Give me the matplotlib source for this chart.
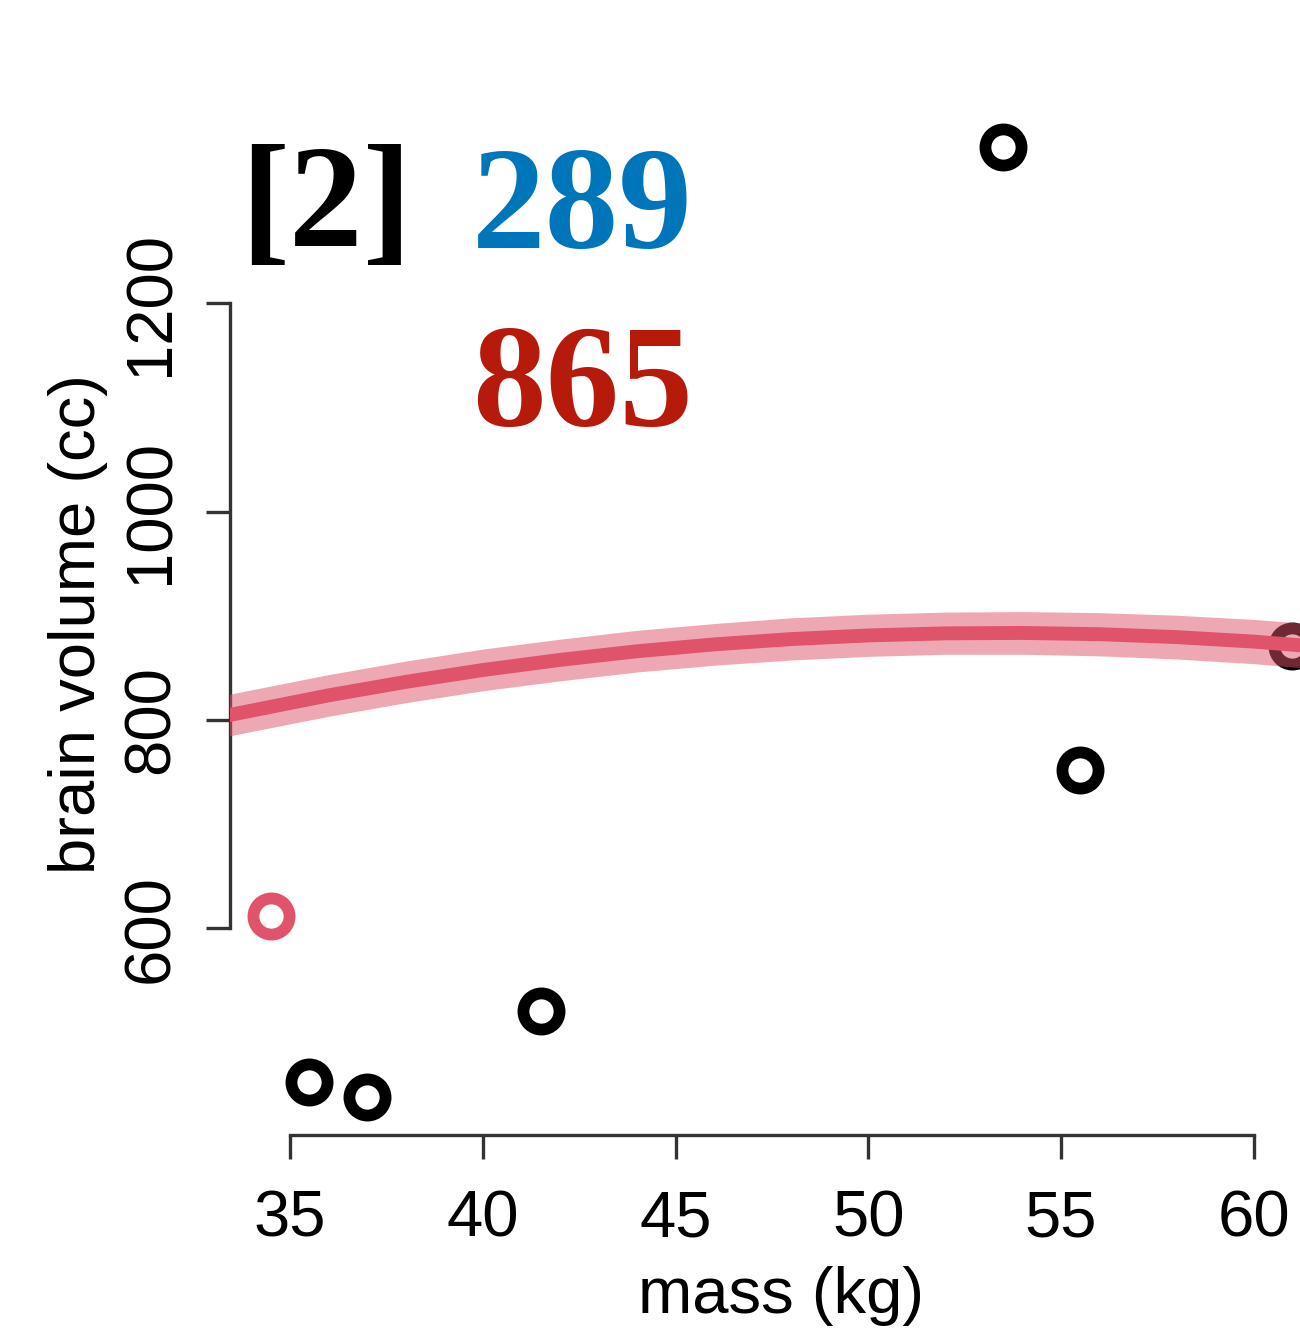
import matplotlib
matplotlib.use("Agg")
import matplotlib.pyplot as plt

# Hominin species: body mass (kg) and brain volume (cc)
mass = [37.0, 35.5, 34.5, 41.5, 55.5, 61.0, 53.5]
brain = [438, 452, 612, 521, 752, 871, 1350]
left_out = 2  # species dropped from this fit

# Posterior mean curve of the fit and its interval
curve_x = [33.4, 36, 38, 40, 42, 44, 46, 48, 50, 52, 54, 56, 58, 60, 62.1]
curve_mu = [804.5, 823.6, 836.5, 847.9, 857.6, 865.9, 872.5, 877.6, 881.1,
            883.1, 883.5, 882.3, 879.5, 875.2, 869.0]
curve_lo = [784.5, 803.5, 816.5, 828.0, 837.5, 846.0, 852.5, 857.5, 861.0,
            863.0, 863.0, 861.5, 858.5, 854.0, 847.5]
curve_hi = [824.5, 843.5, 856.5, 868.0, 877.5, 886.0, 892.5, 898.0, 901.5,
            903.5, 904.0, 903.0, 900.5, 896.5, 890.5]

x_ticks = [35, 40, 45, 50, 55, 60]
y_ticks = [600, 800, 1000, 1200]

fit_label = "[2]"
score_a = "289"
score_b = "865"

RED = "#DF536B"
AXC = "#333333"
FS = 47

plt.rcParams["font.family"] = ["Liberation Sans", "DejaVu Sans"]

fig = plt.figure(figsize=(13, 13.35), dpi=100)
ax = fig.add_axes([0.17692, 0.14981, 0.84846, 0.76854])
ax.set_xlim(33.44, 62.06)
ax.set_ylim(401.5, 1386.5)

# data points as open rings
for i, (m, b) in enumerate(zip(mass, brain)):
    c = RED if i == left_out else "black"
    ax.plot(m, b, "o", ms=26, mfc="none", mec=c, mew=8.5, zorder=2)

ax.fill_between(curve_x, curve_lo, curve_hi, color=RED, alpha=0.5, lw=0, zorder=3)
ax.plot(curve_x, curve_mu, color=RED, lw=10, solid_capstyle="butt", zorder=4)

for s in ("top", "right"):
    ax.spines[s].set_visible(False)
ax.spines["left"].set_bounds(y_ticks[0], y_ticks[-1])
ax.spines["bottom"].set_bounds(x_ticks[0], x_ticks[-1])
for s in ("left", "bottom"):
    ax.spines[s].set_linewidth(2.4)
    ax.spines[s].set_color(AXC)

ax.set_xticks(x_ticks)
ax.set_yticks(y_ticks)
ax.set_xticklabels([str(t) for t in x_ticks])
ax.set_yticklabels([str(t) for t in y_ticks], rotation=90, va="center", ha="right")
ax.tick_params(axis="both", length=17, width=2.4, color=AXC, labelsize=FS,
               direction="out")
ax.tick_params(axis="x", pad=22)
ax.tick_params(axis="y", pad=18)

fig.text(781 / 1300, 1 - 1313 / 1335, "mass (kg)", fontsize=FS,
         ha="center", va="baseline")
fig.text(95 / 1300, 1 - 624 / 1335, "brain volume (cc)", fontsize=FS,
         rotation=90, rotation_mode="anchor", ha="center", va="baseline")

serif = ["Liberation Serif", "DejaVu Serif"]
fig.text(240 / 1300, 1 - 246 / 1335, fit_label, fontsize=106, fontweight="bold",
         family=serif, color="black", ha="left", va="baseline")
fig.text(472 / 1300, 1 - 248 / 1335, score_a, fontsize=106, fontweight="bold",
         family=serif, color="#0076BA", ha="left", va="baseline")
fig.text(472 / 1300, 1 - 426 / 1335, score_b, fontsize=106, fontweight="bold",
         family=serif, color="#B51A0A", ha="left", va="baseline")

fig.savefig("out.png", dpi=100)
